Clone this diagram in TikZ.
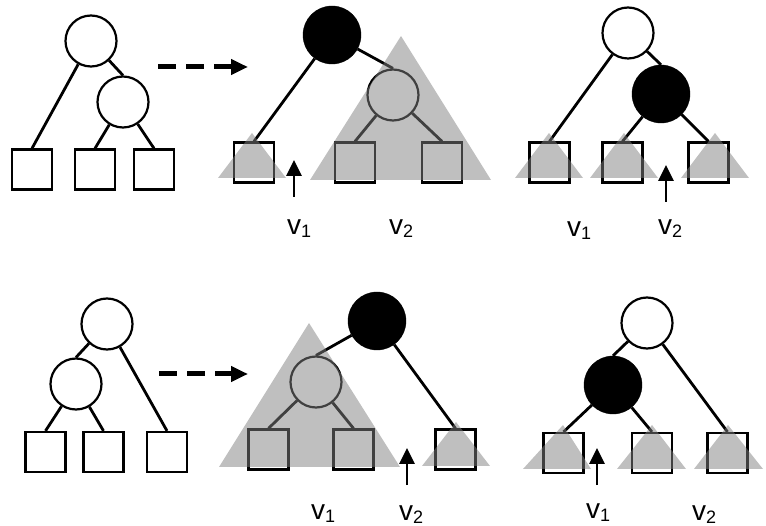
\documentclass[tikz,border=0pt]{standalone}
\usepackage{fontspec}
\setmainfont{Liberation Sans}
\usetikzlibrary{arrows.meta}

\newcommand\subidx[1]{\raisebox{-3pt}{\fontsize{18}{18}\selectfont #1}}

\tikzset{
  inner/.style={circle, draw, line width=2.2pt, fill=white, minimum size=51pt, inner sep=0pt},
  hot/.style={circle, draw=black, fill=black, minimum size=58pt, inner sep=0pt},
  leaf/.style={rectangle, draw, line width=2.2pt, fill=white, minimum size=40pt, inner sep=0pt},
  edge/.style={line width=2.8pt},
  shade/.style={fill=gray, fill opacity=0.5},
  morph/.style={line width=5pt, dash pattern=on 18pt off 10pt,
    -{Triangle[length=17pt,width=15pt]}},
  pointer/.style={line width=2.8pt, -{Triangle[length=16pt,width=15pt]}},
  lbl/.style={inner sep=0pt, anchor=base west, font=\fontsize{28}{28}\selectfont},
}

\begin{document}
\begin{tikzpicture}[x=1pt,y=-1pt]
\useasboundingbox (0,0) rectangle (766,526);

% ---------- top row: rotation of the right child ----------
% original tree
\node[inner] (a1) at (91,41) {};
\node[inner] (a2) at (123,102) {};
\node[leaf] (as1) at (32,169.5) {};
\node[leaf] (as2) at (95,169.5) {};
\node[leaf] (as3) at (154,169.5) {};
\draw[edge] (a1) -- (as1.north);
\draw[edge] (a1) -- (a2.north);
\draw[edge] (a2) -- (as2.north);
\draw[edge] (a2) -- (as3.north);

\coordinate (am0) at (158,67);
\coordinate (am1) at (248,67);
\draw[morph] (am0) -- (am1);

% split at the root
\node[hot] (b1) at (332,35) {};
\node[inner] (b2) at (393,95) {};
\node[leaf] (bs1) at (254,162.5) {};
\node[leaf] (bs2) at (355,162.5) {};
\node[leaf] (bs3) at (442,162.5) {};
\draw[edge] (b1) -- (bs1.north);
\draw[edge] (b1) -- (b2.north);
\draw[edge] (b2) -- (bs2.north);
\draw[edge] (b2) -- (bs3.north);
\fill[shade] (401,36) -- (310,180) -- (491,180) -- cycle;
\fill[shade] (252,133) -- (218,178) -- (286,178) -- cycle;
\coordinate (bp0) at (294,197);
\coordinate (bp1) at (294,160);
\draw[pointer] (bp0) -- (bp1);
\node[lbl] (bv1) at (287,235) {v\subidx{1}};
\node[lbl] (bv2) at (389,235) {v\subidx{2}};

% split at the inner node
\node[inner] (c1) at (628,33) {};
\node[hot] (c2) at (661,94) {};
\node[leaf] (cs1) at (549.5,162.5) {};
\node[leaf] (cs2) at (622.5,162.5) {};
\node[leaf] (cs3) at (708.5,162.5) {};
\draw[edge] (c1) -- (cs1.north);
\draw[edge] (c1) -- (c2.north);
\draw[edge] (c2) -- (cs2.north);
\draw[edge] (c2) -- (cs3.north);
\fill[shade] (549,133) -- (515,178) -- (583,178) -- cycle;
\fill[shade] (624,133) -- (590,178) -- (658,178) -- cycle;
\fill[shade] (715,133) -- (681,178) -- (749,178) -- cycle;
\coordinate (cp0) at (666,202);
\coordinate (cp1) at (666,165);
\draw[pointer] (cp0) -- (cp1);
\node[lbl] (cv1) at (567,237) {v\subidx{1}};
\node[lbl] (cv2) at (658,235) {v\subidx{2}};

% ---------- bottom row: rotation of the left child ----------
% original tree
\node[inner] (d1) at (107,324) {};
\node[inner] (d2) at (76,384) {};
\node[leaf] (ds1) at (45.5,452) {};
\node[leaf] (ds2) at (103.5,452) {};
\node[leaf] (ds3) at (167,452) {};
\draw[edge] (d1) -- (d2.north);
\draw[edge] (d1) -- (ds3.north);
\draw[edge] (d2) -- (ds1.north);
\draw[edge] (d2) -- (ds2.north);

\coordinate (dm0) at (159,374);
\coordinate (dm1) at (248,374);
\draw[morph] (dm0) -- (dm1);

% split at the root
\node[hot] (e1) at (377,321) {};
\node[inner] (e2) at (316,382) {};
\node[leaf] (es1) at (268.5,449.5) {};
\node[leaf] (es2) at (353.5,449.5) {};
\node[leaf] (es3) at (455.5,449.5) {};
\draw[edge] (e1) -- (e2.north);
\draw[edge] (e1) -- (es3.north);
\draw[edge] (e2) -- (es1.north);
\draw[edge] (e2) -- (es2.north);
\fill[shade] (309,323) -- (219,467) -- (400,467) -- cycle;
\fill[shade] (456,422) -- (422,466) -- (490,466) -- cycle;
\coordinate (ep0) at (407,485);
\coordinate (ep1) at (407,448);
\draw[pointer] (ep0) -- (ep1);
\node[lbl] (ev1) at (311,519) {v\subidx{1}};
\node[lbl] (ev2) at (399,520) {v\subidx{2}};

% split at the inner node
\node[inner] (f1) at (647,323) {};
\node[hot] (f2) at (613,385) {};
\node[leaf] (fs1) at (563.5,453) {};
\node[leaf] (fs2) at (652,453) {};
\node[leaf] (fs3) at (727.5,453) {};
\draw[edge] (f1) -- (f2.north);
\draw[edge] (f1) -- (fs3.north);
\draw[edge] (f2) -- (fs1.north);
\draw[edge] (f2) -- (fs2.north);
\fill[shade] (563,425) -- (523,469) -- (591,469) -- cycle;
\fill[shade] (652,425) -- (617,469) -- (686,469) -- cycle;
\fill[shade] (728,425) -- (694,469) -- (763,469) -- cycle;
\coordinate (fp0) at (597,485);
\coordinate (fp1) at (597,448);
\draw[pointer] (fp0) -- (fp1);
\node[lbl] (fv1) at (586,518) {v\subidx{1}};
\node[lbl] (fv2) at (692,520) {v\subidx{2}};
\end{tikzpicture}
\end{document}
